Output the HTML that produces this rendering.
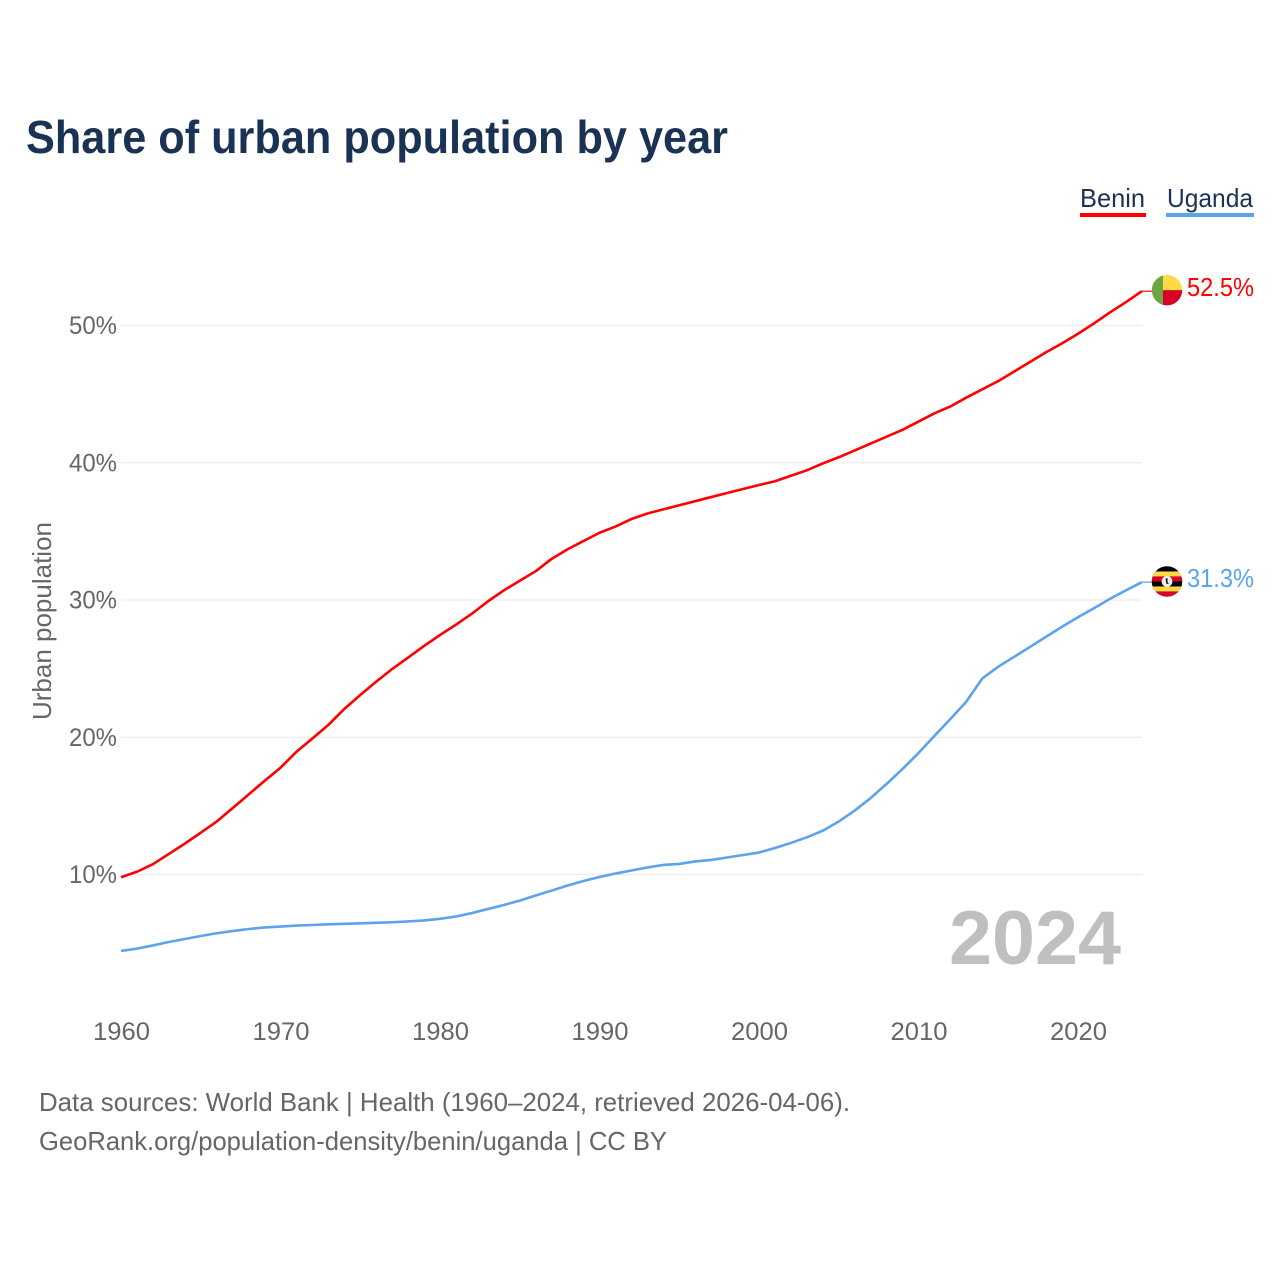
<!DOCTYPE html>
<html lang="en">
<head>
<meta charset="utf-8">
<title>Share of urban population by year</title>
<style>
html,body{margin:0;padding:0;background:#fff;width:1280px;height:1280px;overflow:hidden}
svg{display:block}
text{font-family:"Liberation Sans",sans-serif}
</style>
</head>
<body>
<svg id="chart" xmlns="http://www.w3.org/2000/svg" width="1280" height="1280" viewBox="0 0 1280 1280">
  <defs>
    <clipPath id="flag-clip"><circle cx="0" cy="0" r="15.2"></circle></clipPath>
  </defs>
  <text x="26" y="153" font-size="46" font-weight="700" fill="#1a3354" textLength="702" lengthAdjust="spacingAndGlyphs">Share of urban population by year</text>

  <g>
    <g>
      <text x="1080" y="207" font-size="26" fill="#1a3354" textLength="65" lengthAdjust="spacingAndGlyphs">Benin</text>
      <rect x="1080" y="213" width="66" height="4" fill="#ff0000"></rect>
    </g>
    <g>
      <text x="1167" y="207" font-size="26" fill="#1a3354" textLength="86" lengthAdjust="spacingAndGlyphs">Uganda</text>
      <rect x="1166" y="213" width="88" height="4" fill="#5ba3ec"></rect>
    </g>
  </g>

  <g id="grid"></g>
  <g id="y-ticks"></g>
  <g id="x-ticks"></g>
  <text transform="translate(51,621) rotate(-90)" text-anchor="middle" font-size="26" fill="#666666" textLength="198" lengthAdjust="spacingAndGlyphs">Urban population</text>

  <text x="949" y="964" font-size="76" font-weight="700" fill="#bfbfbf" textLength="172" lengthAdjust="spacingAndGlyphs">2024</text>

  <g id="series"></g>

  <g id="flag-benin">
    <g clip-path="url(#flag-clip)">
      <rect x="-16" y="-16" width="32" height="32" fill="#ffda44"></rect>
      <rect x="-4" y="0" width="20" height="16" fill="#d80027"></rect>
      <rect x="-16" y="-16" width="12" height="32" fill="#6da544"></rect>
    </g>
  </g>
  <g id="flag-uganda">
    <g clip-path="url(#flag-clip)">
      <rect x="-16" y="-16" width="32" height="32" fill="#000000"></rect>
      <rect x="-16" y="-10" width="32" height="5" fill="#ffda44"></rect>
      <rect x="-16" y="-5" width="32" height="5" fill="#d80027"></rect>
      <rect x="-16" y="0" width="32" height="5" fill="#000000"></rect>
      <rect x="-16" y="5" width="32" height="5" fill="#ffda44"></rect>
      <rect x="-16" y="10" width="32" height="6" fill="#d80027"></rect>
      <circle cx="0" cy="0" r="5.4" fill="#f0f0f0"></circle>
      <path d="M-1.2 -3.2 L0.6 -3.2 L0.6 0.8 L2 2.6 L-0.4 2.6 L-1.2 0 Z" fill="#222222"></path>
    </g>
  </g>

  <text id="value-benin" x="1187" y="296" font-size="26" fill="#ff0000" textLength="67" lengthAdjust="spacingAndGlyphs"></text>
  <text id="value-uganda" x="1187" y="587" font-size="26" fill="#5ba3ec" textLength="67" lengthAdjust="spacingAndGlyphs"></text>

  <g>
    <text x="39" y="1111" font-size="26" fill="#666666" textLength="811" lengthAdjust="spacingAndGlyphs">Data sources: World Bank | Health (1960–2024, retrieved 2026-04-06).</text>
    <text x="39" y="1150" font-size="26" fill="#666666" textLength="628" lengthAdjust="spacingAndGlyphs">GeoRank.org/population-density/benin/uganda | CC BY</text>
  </g>
</svg>
<script>
var startYear = 1960;
var xTickYears = [1960, 1970, 1980, 1990, 2000, 2010, 2020];
var yTickValues = [10, 20, 30, 40, 50];
var beninValues = [9.8, 10.2, 10.75, 11.5, 12.25, 13.05, 13.86, 14.84, 15.83, 16.82,
  17.78, 18.94, 19.91, 20.9, 22.06, 23.08, 24.05, 24.97, 25.81, 26.65,
  27.45, 28.2, 29.0, 29.9, 30.7, 31.4, 32.1, 33.0, 33.7, 34.3,
  34.9, 35.35, 35.9, 36.3, 36.6, 36.9, 37.2, 37.5, 37.8, 38.09,
  38.38, 38.65, 39.05, 39.45, 39.95, 40.4, 40.9, 41.4, 41.9, 42.4,
  43.0, 43.6, 44.1, 44.75, 45.35, 45.95, 46.65, 47.35, 48.05, 48.7,
  49.4, 50.15, 50.95, 51.7, 52.5];
var ugandaValues = [4.43, 4.6, 4.83, 5.08, 5.3, 5.52, 5.72, 5.88, 6.03, 6.14,
  6.21, 6.28, 6.32, 6.37, 6.41, 6.44, 6.48, 6.52, 6.58, 6.65,
  6.77, 6.94, 7.19, 7.49, 7.78, 8.1, 8.47, 8.83, 9.2, 9.53,
  9.82, 10.07, 10.29, 10.51, 10.7, 10.77, 10.95, 11.06, 11.24, 11.42,
  11.6, 11.93, 12.3, 12.71, 13.19, 13.86, 14.66, 15.57, 16.6, 17.69,
  18.85, 20.1, 21.33, 22.6, 24.28, 25.14, 25.86, 26.59, 27.32, 28.05,
  28.74, 29.4, 30.08, 30.7, 31.3];

var NS = 'http://www.w3.org/2000/svg';
function xScale(year) { return 121 + (year - 1960) * 15.95; }
function yScale(value) { return 874.5 - (value - 10) * 13.725; }
function make(tag, parent) {
  var el = document.createElementNS(NS, tag);
  parent.appendChild(el);
  return el;
}

var gridGroup = document.getElementById('grid');
var yTickGroup = document.getElementById('y-ticks');
yTickValues.forEach(function (v) {
  var line = make('line', gridGroup);
  
  
  line.setAttribute('x1', xScale(1960));
  line.setAttribute('x2', xScale(2024));
  line.setAttribute('y1', yScale(v));
  line.setAttribute('y2', yScale(v));
  line.setAttribute('stroke', '#ebebeb');
  line.setAttribute('stroke-width', '1.2');
  var label = make('text', yTickGroup);
  
  
  label.setAttribute('x', 69);
  label.setAttribute('y', yScale(v) + 8.5);
  label.setAttribute('font-size', '25');
  label.setAttribute('fill', '#666666');
  label.setAttribute('textLength', '48');
  label.setAttribute('lengthAdjust', 'spacingAndGlyphs');
  label.textContent = v + '%';
});

var xTickGroup = document.getElementById('x-ticks');
xTickYears.forEach(function (year) {
  var label = make('text', xTickGroup);
  
  
  label.setAttribute('x', xScale(year) - 28);
  label.setAttribute('y', 1040);
  label.setAttribute('font-size', '25');
  label.setAttribute('fill', '#666666');
  label.setAttribute('textLength', '57');
  label.setAttribute('lengthAdjust', 'spacingAndGlyphs');
  label.textContent = year;
});

function linePath(values) {
  return values.map(function (v, i) {
    return (i ? 'L' : 'M') + xScale(startYear + i).toFixed(2) + ' ' + yScale(v).toFixed(2);
  }).join(' ');
}
var seriesGroup = document.getElementById('series');

var ugandaLine = make('path', seriesGroup);


ugandaLine.setAttribute('d', linePath(ugandaValues));
ugandaLine.setAttribute('fill', 'none');
ugandaLine.setAttribute('stroke', '#5ba3ec');
ugandaLine.setAttribute('stroke-width', '2.6');
ugandaLine.setAttribute('stroke-linejoin', 'round');

var beninLine = make('path', seriesGroup);


beninLine.setAttribute('d', linePath(beninValues));
beninLine.setAttribute('fill', 'none');
beninLine.setAttribute('stroke', '#ff0000');
beninLine.setAttribute('stroke-width', '2.6');
beninLine.setAttribute('stroke-linejoin', 'round');

var beninLast = beninValues[beninValues.length - 1];
var ugandaLast = ugandaValues[ugandaValues.length - 1];

var beninLeader = make('line', seriesGroup);


beninLeader.setAttribute('x1', xScale(2024));
beninLeader.setAttribute('x2', 1152);
beninLeader.setAttribute('y1', yScale(beninLast));
beninLeader.setAttribute('y2', yScale(beninLast));
beninLeader.setAttribute('stroke', '#ff0000');
beninLeader.setAttribute('stroke-width', '1.2');

var ugandaLeader = make('line', seriesGroup);


ugandaLeader.setAttribute('x1', xScale(2024));
ugandaLeader.setAttribute('x2', 1152);
ugandaLeader.setAttribute('y1', yScale(ugandaLast));
ugandaLeader.setAttribute('y2', yScale(ugandaLast));
ugandaLeader.setAttribute('stroke', '#5ba3ec');
ugandaLeader.setAttribute('stroke-width', '1.2');

document.getElementById('flag-benin').setAttribute('transform', 'translate(1167,' + (yScale(beninLast) - 1) + ')');
document.getElementById('flag-uganda').setAttribute('transform', 'translate(1167,' + (yScale(ugandaLast) - 0.7) + ')');

var beninLabel = document.getElementById('value-benin');
beninLabel.textContent = beninLast.toFixed(1) + '%';
beninLabel.setAttribute('y', yScale(beninLast) + 5);
var ugandaLabel = document.getElementById('value-uganda');
ugandaLabel.textContent = ugandaLast.toFixed(1) + '%';
ugandaLabel.setAttribute('y', yScale(ugandaLast) + 5);
</script>
</body>
</html>
